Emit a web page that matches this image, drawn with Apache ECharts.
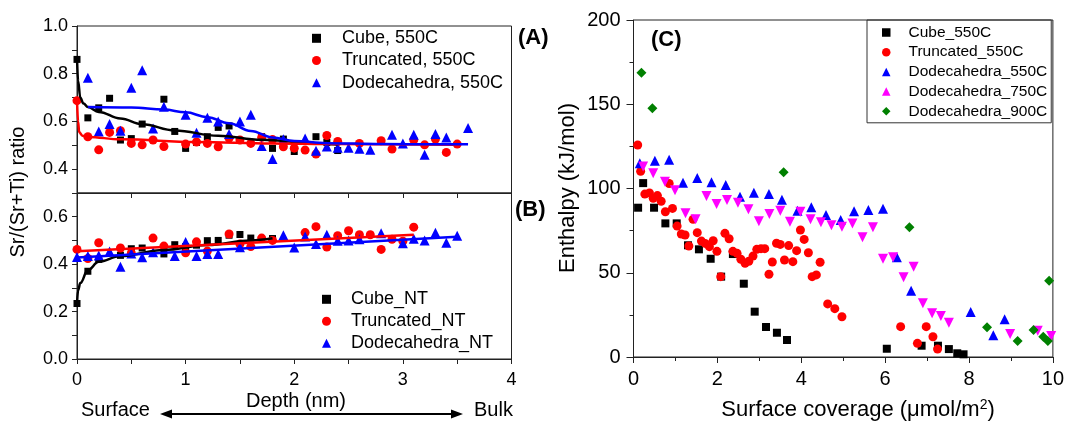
<!DOCTYPE html>
<html lang="en">
<head>
    <meta charset="UTF-8">
    <title>Sr segregation and enthalpy</title>
    <script type="text/javascript" src="https://cdn.jsdelivr.net/npm/echarts@6/dist/echarts.min.js"></script>
    <style>
        html, body { margin: 0; padding: 0; background: #fff; }
    </style>
</head>
<body>
<div id="chart" style="width: 1067px;height:421px;"></div>
<script type="text/javascript">

    // (A) annealed 550C, depth (nm) vs Sr/(Sr+Ti)
    const cubeA = [[0, 0.86], [0.1, 0.615], [0.2, 0.657], [0.3, 0.697], [0.4, 0.522], [0.5, 0.528], [0.6, 0.589], [0.8, 0.693], [0.9, 0.558], [1.0, 0.487], [1.1, 0.512], [1.2, 0.536], [1.3, 0.575], [1.4, 0.581], [1.7, 0.536], [1.8, 0.487], [1.9, 0.526], [2.0, 0.474], [2.2, 0.536], [2.3, 0.512], [2.4, 0.478]];
    const truncA = [[0, 0.687], [0.1, 0.536], [0.2, 0.481], [0.3, 0.554], [0.4, 0.561], [0.5, 0.508], [0.6, 0.502], [0.7, 0.522], [0.8, 0.495], [1.0, 0.505], [1.1, 0.514], [1.2, 0.508], [1.3, 0.494], [1.4, 0.530], [1.5, 0.522], [1.6, 0.508], [1.7, 0.533], [1.8, 0.524], [1.9, 0.494], [2.0, 0.488], [2.1, 0.480], [2.2, 0.463], [2.3, 0.541], [2.4, 0.516], [2.6, 0.508], [2.8, 0.519], [2.9, 0.484], [3.1, 0.522], [3.2, 0.502], [3.3, 0.526], [3.4, 0.470], [3.5, 0.505]];
    const dodA = [[0.1, 0.783], [0.2, 0.558], [0.3, 0.589], [0.4, 0.561], [0.5, 0.741], [0.6, 0.814], [0.7, 0.570], [0.8, 0.662], [1.0, 0.628], [1.1, 0.553], [1.2, 0.615], [1.3, 0.600], [1.4, 0.547], [1.5, 0.600], [1.6, 0.628], [1.7, 0.497], [1.8, 0.443], [1.9, 0.525], [2.1, 0.528], [2.2, 0.477], [2.3, 0.495], [2.4, 0.49], [2.5, 0.49], [2.6, 0.486], [2.7, 0.481], [2.9, 0.544], [3.0, 0.508], [3.1, 0.544], [3.2, 0.46], [3.3, 0.547], [3.4, 0.533], [3.6, 0.572]];

    const fitCubeA = [[0, 0.87], [0.01, 0.77], [0.03, 0.70], [0.06, 0.675], [0.1, 0.66], [0.2, 0.64], [0.4, 0.612], [0.6, 0.588], [0.9, 0.562], [1.3, 0.54], [1.7, 0.523], [2.2, 0.508], [2.4, 0.503]];
    const fitTruncA = [[0, 0.69], [0.01, 0.60], [0.02, 0.555], [0.05, 0.54], [0.1, 0.535], [0.4, 0.525], [1.1, 0.514], [1.8, 0.508], [2.4, 0.505], [3.5, 0.502]];
    const fitDodA = [[0.1, 0.66], [0.5, 0.658], [0.8, 0.65], [1.0, 0.638], [1.2, 0.618], [1.4, 0.592], [1.6, 0.56], [1.8, 0.533], [2.0, 0.518], [2.3, 0.509], [2.8, 0.505], [3.6, 0.504]];

    // (B) not treated
    const cubeB = [[0, 0.234], [0.1, 0.370], [0.2, 0.420], [0.4, 0.437], [0.5, 0.465], [0.6, 0.468], [0.8, 0.443], [0.9, 0.482], [1.0, 0.474], [1.1, 0.48], [1.2, 0.499], [1.3, 0.50], [1.4, 0.522], [1.5, 0.525], [1.6, 0.51], [1.8, 0.508]];
    const truncB = [[0, 0.462], [0.1, 0.424], [0.2, 0.490], [0.4, 0.468], [0.5, 0.446], [0.7, 0.51], [0.8, 0.476], [1.0, 0.448], [1.1, 0.494], [1.2, 0.455], [1.4, 0.527], [1.5, 0.485], [1.6, 0.474], [1.7, 0.51], [1.8, 0.50], [2.1, 0.533], [2.2, 0.558], [2.3, 0.472], [2.4, 0.52], [2.5, 0.541], [2.6, 0.524], [2.7, 0.524], [2.8, 0.462], [2.9, 0.505], [3.0, 0.497], [3.1, 0.556]];
    const dodB = [[0, 0.43], [0.1, 0.434], [0.2, 0.436], [0.3, 0.453], [0.4, 0.389], [0.5, 0.445], [0.6, 0.429], [0.7, 0.45], [0.9, 0.434], [1.0, 0.493], [1.1, 0.434], [1.2, 0.443], [1.3, 0.443], [1.5, 0.471], [1.9, 0.522], [2.0, 0.47], [2.1, 0.517], [2.2, 0.485], [2.3, 0.524], [2.4, 0.499], [2.5, 0.50], [2.6, 0.505], [2.8, 0.53], [3.0, 0.488], [3.1, 0.507], [3.2, 0.50], [3.3, 0.532], [3.4, 0.49], [3.5, 0.52]];

    const fitCubeB = [[0, 0.234], [0.01, 0.29], [0.03, 0.32], [0.1, 0.375], [0.2, 0.41], [0.4, 0.434], [0.8, 0.46], [1.2, 0.481], [1.6, 0.50], [1.8, 0.509]];
    const fitTruncB = [[0, 0.454], [3.1, 0.524]];
    const fitDodB = [[0, 0.428], [3.5, 0.516]];

    // (C) surface coverage vs enthalpy
    const cubeC = [[0.11, 88.6], [0.23, 103.2], [0.49, 88.6], [0.76, 79.3], [1.03, 79.3], [1.30, 66.3], [1.56, 63.9], [1.84, 58.3], [2.09, 47.7], [2.37, 61.1], [2.63, 43.5], [2.89, 26.9], [3.16, 17.8], [3.42, 14.4], [3.66, 10.1], [6.04, 4.9], [6.87, 6.7], [7.26, 6.7], [7.52, 4.7], [7.72, 2.2], [7.87, 1.6]];
    const truncC = [[0.10, 125.8], [0.17, 110.2], [0.27, 96.7], [0.38, 97.4], [0.47, 94.2], [0.57, 95.8], [0.66, 92.4], [0.76, 86.2], [0.85, 103], [0.93, 88.2], [1.04, 77.7], [1.14, 73], [1.23, 72.4], [1.32, 65.9], [1.42, 81.7], [1.52, 73.8], [1.62, 68.8], [1.71, 67.4], [1.81, 65.5], [1.90, 69], [1.99, 62.7], [2.08, 47.7], [2.18, 73.4], [2.28, 70.2], [2.37, 62.7], [2.47, 61.5], [2.56, 58], [2.66, 55.6], [2.75, 56.8], [2.85, 59.9], [2.94, 63.9], [3.04, 64.3], [3.13, 64.3], [3.23, 49.1], [3.31, 56.4], [3.41, 67.5], [3.50, 66.8], [3.60, 57.6], [3.70, 66.1], [3.80, 56.6], [3.89, 63.1], [3.98, 75.4], [4.07, 69.8], [4.17, 61.9], [4.26, 47.7], [4.36, 48.7], [4.45, 56.2], [4.63, 31.5], [4.80, 28.7], [4.97, 23.9], [6.37, 18], [6.77, 8.1], [6.98, 18], [7.14, 12], [7.25, 4.7]];
    const dod550C = [[0.15, 115], [0.51, 116.5], [0.85, 117], [1.18, 103.4], [1.52, 106.2], [1.86, 103.7], [2.20, 102.1], [2.54, 95.1], [2.87, 97.5], [3.23, 96.7], [3.54, 93.3], [3.91, 86.8], [4.24, 88.8], [4.59, 84.3], [4.94, 81.3], [5.26, 86.5], [5.60, 87.2], [5.95, 88], [6.28, 59.2], [6.62, 39.3], [8.04, 26.7], [8.58, 12.9], [8.85, 22.4]];
    const dod750C = [[0.23, 113], [0.47, 109], [0.75, 104], [0.99, 99], [1.24, 85.3], [1.48, 81.7], [1.74, 95.5], [1.98, 90.8], [2.23, 93.2], [2.49, 91.6], [2.74, 87.7], [2.99, 80.5], [3.24, 84.9], [3.50, 86.8], [3.73, 80.3], [3.98, 86.2], [4.22, 81.7], [4.47, 79.9], [4.72, 78.2], [4.97, 77.3], [5.22, 79.3], [5.46, 71], [5.71, 77], [5.95, 58.3], [6.19, 59.2], [6.44, 47.3], [6.68, 53.6], [6.90, 31.9], [7.12, 25.9], [7.33, 24.3], [7.52, 20.4], [8.98, 13.6], [9.64, 15.6], [9.96, 12.5]];
    const dod900C = [[0.19, 168.7], [0.45, 147.6], [3.58, 109.6], [6.58, 77], [8.43, 17.6], [9.16, 9.5], [9.54, 16], [9.77, 12], [9.88, 9.5], [9.91, 45.3]];

    const FONT = 'Liberation Sans, Arial, sans-serif';
    const AXIS_COLOR = '#222';

    function tenthLabel(v) {
        // only every other tenth gets a label (0.0, 0.2, 0.4 ...)
        return Math.round(v * 10) % 2 === 0 ? v.toFixed(1) : '';
    }

    function depthAxis(gridIndex, showLabel) {
        return {
            type: 'value', gridIndex: gridIndex, min: 0, max: 4, interval: 1,
            axisLine: {lineStyle: {color: AXIS_COLOR, width: 1}},
            axisTick: {length: 5, lineStyle: {color: AXIS_COLOR}},
            minorTick: {show: true, splitNumber: 2, length: 5, lineStyle: {color: AXIS_COLOR}},
            axisLabel: {show: showLabel, margin: 12, color: '#000', fontSize: 18, fontFamily: FONT},
            splitLine: {show: false}
        };
    }

    function ratioAxis(gridIndex, min, max) {
        return {
            type: 'value', gridIndex: gridIndex, min: min, max: max, interval: 0.1,
            axisLine: {show: true, lineStyle: {color: AXIS_COLOR, width: 1}},
            axisTick: {length: 5, lineStyle: {color: AXIS_COLOR}},
            axisLabel: {margin: 9, color: '#000', fontSize: 18, fontFamily: FONT, formatter: tenthLabel},
            splitLine: {show: false}
        };
    }

    function dots(name, data, xi, symbol, size, color, rotate) {
        return {
            name: name, type: 'scatter', xAxisIndex: xi, yAxisIndex: xi,
            symbol: symbol, symbolSize: size, symbolRotate: rotate || 0,
            itemStyle: {color: color, opacity: 1}, data: data, z: 3
        };
    }

    function fit(data, xi, color) {
        return {
            type: 'line', xAxisIndex: xi, yAxisIndex: xi, data: data,
            showSymbol: false, smooth: 0.4, smoothMonotone: 'x',
            lineStyle: {color: color, width: 2.5}, z: 4, silent: true
        };
    }

    function legendText(size, gap) {
        return {color: '#000', fontSize: size, fontFamily: FONT, lineHeight: size, padding: [0, 0, 0, gap]};
    }

    let option = {
        animation: false,
        backgroundColor: '#fff',
        grid: [
            {left: 77, top: 26, width: 434.5, height: 167, show: true, borderColor: AXIS_COLOR, borderWidth: 1},
            {left: 77, top: 193, width: 434.5, height: 166, show: true, borderColor: AXIS_COLOR, borderWidth: 1},
            {left: 633.5, top: 20, width: 421.5, height: 337, show: true, borderColor: AXIS_COLOR, borderWidth: 1}
        ],
        xAxis: [
            depthAxis(0, false),
            depthAxis(1, true),
            {
                type: 'value', gridIndex: 2, min: 0, max: 10, interval: 2,
                axisLine: {lineStyle: {color: AXIS_COLOR}},
                axisTick: {length: 6, lineStyle: {color: AXIS_COLOR}},
                minorTick: {show: true, splitNumber: 2, length: 4, lineStyle: {color: AXIS_COLOR}},
                axisLabel: {margin: 12, color: '#000', fontSize: 20, fontFamily: FONT},
                splitLine: {show: false}
            }
        ],
        yAxis: [
            ratioAxis(0, 0.3, 1.0),
            ratioAxis(1, 0, 0.7),
            {
                type: 'value', gridIndex: 2, min: 0, max: 200, interval: 50,
                axisLine: {show: true, lineStyle: {color: AXIS_COLOR}},
                axisTick: {length: 7, lineStyle: {color: AXIS_COLOR}},
                minorTick: {show: true, splitNumber: 2, length: 4, lineStyle: {color: AXIS_COLOR}},
                axisLabel: {margin: 13, color: '#000', fontSize: 20, fontFamily: FONT},
                splitLine: {show: false}
            }
        ],
        legend: [
            {
                data: ['Cube, 550C', 'Truncated, 550C', 'Dodecahedra, 550C'],
                orient: 'vertical', left: 312, top: 29.3, padding: 0,
                itemWidth: 9, itemHeight: 9, itemGap: 4.2,
                textStyle: legendText(18, 16)
            },
            {
                data: ['Cube_NT', 'Truncated_NT', 'Dodecahedra_NT'],
                orient: 'vertical', left: 322, top: 290.3, padding: 0,
                itemWidth: 9, itemHeight: 9, itemGap: 4,
                textStyle: legendText(18, 15)
            },
            {
                data: ['Cube_550C', 'Truncated_550C', 'Dodecahedra_550C', 'Dodecahedra_750C', 'Dodecahedra_900C'],
                orient: 'vertical', left: 867, top: 20, padding: [4.5, 4, 3.5, 15],
                itemWidth: 8.5, itemHeight: 8.5, itemGap: 3.7,
                borderColor: '#333', borderWidth: 1,
                textStyle: legendText(15.5, 13)
            }
        ],
        series: [
            dots('Cube, 550C', cubeA, 0, 'rect', 7, '#000'),
            dots('Truncated, 550C', truncA, 0, 'circle', 9, '#ff0000'),
            dots('Dodecahedra, 550C', dodA, 0, 'triangle', 10, '#0000ff'),
            fit(fitCubeA, 0, '#000'),
            fit(fitTruncA, 0, '#ff0000'),
            fit(fitDodA, 0, '#0000ff'),

            dots('Cube_NT', cubeB, 1, 'rect', 7, '#000'),
            dots('Truncated_NT', truncB, 1, 'circle', 9, '#ff0000'),
            dots('Dodecahedra_NT', dodB, 1, 'triangle', 10, '#0000ff'),
            fit(fitCubeB, 1, '#000'),
            fit(fitTruncB, 1, '#ff0000'),
            fit(fitDodB, 1, '#0000ff'),

            dots('Cube_550C', cubeC, 2, 'rect', 8, '#000'),
            dots('Truncated_550C', truncC, 2, 'circle', 9, '#ff0000'),
            dots('Dodecahedra_550C', dod550C, 2, 'triangle', 10, '#0000ff'),
            dots('Dodecahedra_750C', dod750C, 2, 'triangle', 10, '#ff00ff', 180),
            dots('Dodecahedra_900C', dod900C, 2, 'diamond', 10, '#008000')
        ],
        graphic: [
            {type: 'text', left: 518, top: 27, style: {text: '(A)', font: 'bold 22px ' + FONT, fill: '#000'}},
            {type: 'text', left: 515, top: 199, style: {text: '(B)', font: 'bold 22px ' + FONT, fill: '#000'}},
            {type: 'text', left: 651, top: 29, style: {text: '(C)', font: 'bold 22px ' + FONT, fill: '#000'}},
            {
                type: 'text', x: 18, y: 192, rotation: Math.PI / 2,
                style: {text: 'Sr/(Sr+Ti) ratio', font: '20px ' + FONT, fill: '#000', align: 'center', verticalAlign: 'middle'}
            },
            {
                type: 'text', x: 568, y: 188, rotation: Math.PI / 2,
                style: {text: 'Enthalpy (kJ/mol)', font: '22px ' + FONT, fill: '#000', align: 'center', verticalAlign: 'middle'}
            },
            {type: 'text', x: 81, y: 410, style: {text: 'Surface', font: '20px ' + FONT, fill: '#000', verticalAlign: 'middle'}},
            {type: 'text', x: 296, y: 401, style: {text: 'Depth (nm)', font: '20px ' + FONT, fill: '#000', align: 'center', verticalAlign: 'middle'}},
            {type: 'text', x: 474, y: 410, style: {text: 'Bulk', font: '20px ' + FONT, fill: '#000', verticalAlign: 'middle'}},
            {type: 'line', shape: {x1: 168, y1: 414, x2: 455, y2: 414}, style: {stroke: '#000', lineWidth: 2}},
            {type: 'polygon', shape: {points: [[160, 414], [172, 409.5], [172, 418.5]]}, style: {fill: '#000'}},
            {type: 'polygon', shape: {points: [[463, 414], [451, 409.5], [451, 418.5]]}, style: {fill: '#000'}},
            {
                type: 'text', x: 858, y: 410,
                style: {
                    text: '{t|Surface coverage (\u03bcmol/m}{s|2}{t|)}',
                    align: 'center', verticalAlign: 'middle',
                    rich: {
                        t: {font: '22px ' + FONT, fill: '#000'},
                        s: {font: '14px ' + FONT, fill: '#000', verticalAlign: 'top', padding: [0, 0, 10, 0]}
                    }
                }
            }
        ]
    };

    echarts.init(document.getElementById('chart')).setOption(option);
</script>
</body>
</html>
